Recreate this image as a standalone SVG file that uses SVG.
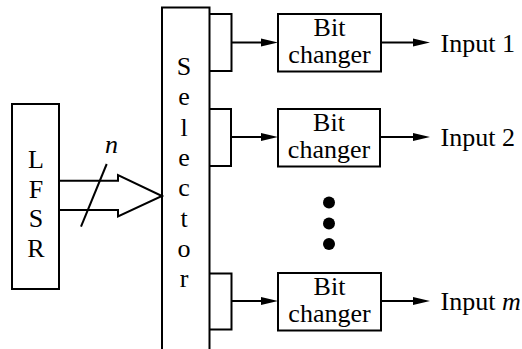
<svg xmlns="http://www.w3.org/2000/svg" width="522" height="349" viewBox="0 0 522 349" font-family="Liberation Serif, serif">
<defs>
<style>
.t{font-family:"Liberation Serif",serif;font-size:26px;fill:#000}
.m{text-anchor:middle}
.i{font-style:italic}
.b{fill:#fff;stroke:#000;stroke-width:2}
</style>
</defs>
<rect width="522" height="349" fill="#fff"/>
<g id="lfsr">
<rect class="b" x="12" y="104" width="47" height="185"/>
<text class="t m" x="36" y="168">L</text>
<text class="t m" x="36" y="197.5">F</text>
<text class="t m" x="36" y="227">S</text>
<text class="t m" x="36" y="256.5">R</text>
</g>
<g id="selector">
<rect class="b" x="162" y="7.5" width="47.5" height="350"/>
<text class="t m" x="184" y="75">S</text>
<text class="t m" x="184" y="105.3">e</text>
<text class="t m" x="184" y="135.6">l</text>
<text class="t m" x="184" y="165.9">e</text>
<text class="t m" x="184" y="196.2">c</text>
<text class="t m" x="184" y="226.5">t</text>
<text class="t m" x="184" y="256.8">o</text>
<text class="t m" x="184" y="287.1">r</text>
</g>
<g id="bc1">
<rect class="b" x="278" y="14" width="103" height="57.5"/>
<text class="t m" x="329.5" y="36">Bit</text>
<text class="t m" x="329.5" y="63">changer</text>
</g>
<g id="bc2">
<rect class="b" x="278" y="109" width="102" height="57.5"/>
<text class="t m" x="329" y="131">Bit</text>
<text class="t m" x="329" y="158">changer</text>
</g>
<g id="bc3">
<rect class="b" x="278" y="273" width="103" height="57.5"/>
<text class="t m" x="329.5" y="295">Bit</text>
<text class="t m" x="329.5" y="322">changer</text>
</g>
<g id="dots">
<circle cx="329" cy="202.5" r="6"/>
<circle cx="329" cy="223.5" r="6"/>
<circle cx="329" cy="244" r="6"/>
</g>
<g id="labels">
<text class="t" x="440.5" y="51.7">Input 1</text>
<text class="t" x="440.5" y="146">Input 2</text>
<text class="t" x="440.5" y="310">Input <tspan class="i">m</tspan></text>
<text class="t i" x="105" y="153">n</text>
</g>
<g id="connectors" stroke="#000" stroke-width="2">
<path fill="none" d="M59,180.7 H118 V175 L162,196 L118,216.5 V210 H59"/>
<path fill="none" d="M81,226.7 L106.7,164"/>
<path fill="none" d="M209.5,14 H231.5 V71 H209.5"/>
<path fill="none" d="M209.5,109 H231 V166 H209.5"/>
<path fill="none" d="M209.5,273.5 H231.5 V329.5 H209.5"/>
<path fill="none" d="M231.5,42.5 H264"/>
<path fill="none" d="M231,137 H264"/>
<path fill="none" d="M231.5,301 H264"/>
<path fill="none" d="M381,42.5 H416"/>
<path fill="none" d="M380,137 H416"/>
<path fill="none" d="M381,301 H416"/>
<g stroke="none" fill="#000">
<polygon points="261,38.5 278,42.5 261,46.5"/>
<polygon points="261,133 278,137 261,141"/>
<polygon points="261,297 278,301 261,305"/>
<polygon points="413,38.5 430,42.5 413,46.5"/>
<polygon points="413,133 430,137 413,141"/>
<polygon points="413,297 430,301 413,305"/>
</g>
</g>
</svg>
